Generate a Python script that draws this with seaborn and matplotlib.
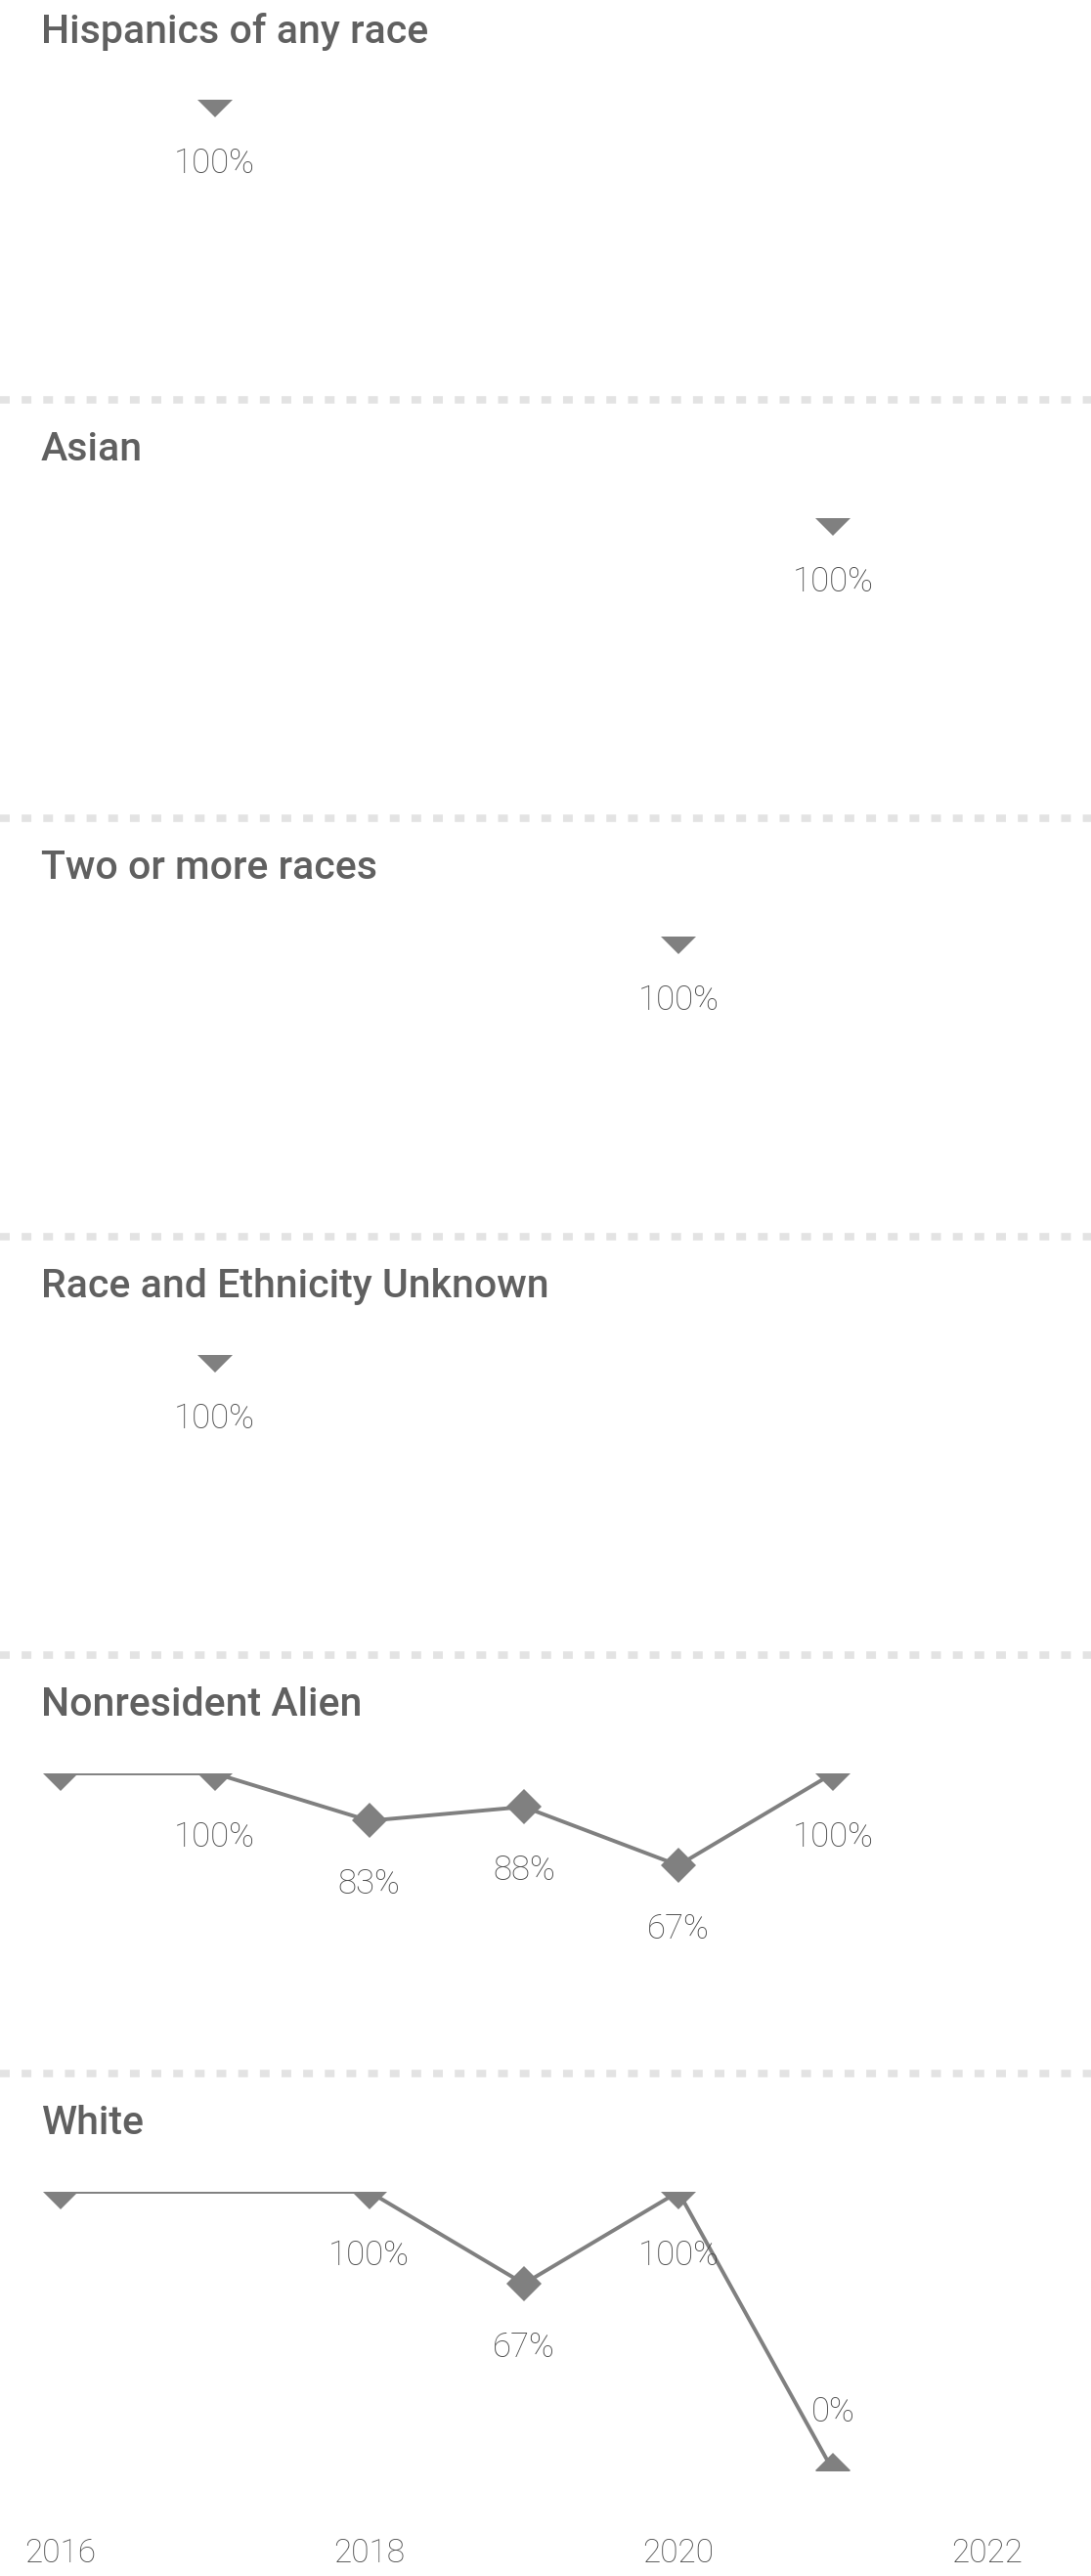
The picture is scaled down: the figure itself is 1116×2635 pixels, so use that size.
import matplotlib
matplotlib.use("Agg")
import matplotlib.pyplot as plt
import numpy as np
import pandas as pd
import seaborn as sns

# data, one list per panel
groups = ["Hispanics of any race", "Asian", "Two or more races",
          "Race and Ethnicity Unknown", "Nonresident Alien", "White"]

hisp_years = [2017]
hisp_rate = [1.00]
asian_years = [2021]
asian_rate = [1.00]
multi_years = [2020]
multi_rate = [1.00]
unknown_years = [2017]
unknown_rate = [1.00]
nra_years = [2016, 2017, 2018, 2019, 2020, 2021]
nra_rate = [1.00, 1.00, 0.83, 0.88, 0.67, 1.00]
white_years = [2016, 2018, 2019, 2020, 2021]
white_rate = [1.00, 1.00, 0.67, 1.00, 0.00]

year_ticks = [2016, 2018, 2020, 2022]

series = [(hisp_years, hisp_rate), (asian_years, asian_rate), (multi_years, multi_rate),
          (unknown_years, unknown_rate), (nra_years, nra_rate), (white_years, white_rate)]
rows = []
for g, (ys, vs) in zip(groups, series):
    for y, v in zip(ys, vs):
        rows.append({"group": g, "year": y, "rate": v})
df = pd.DataFrame(rows)

sns.set_theme(style="white")
plt.rcParams['font.family'] = ['Roboto', 'DejaVu Sans']

W, H = 1116, 2635
fig = plt.figure(figsize=(W / 100, H / 100), dpi=100)
fig.patch.set_facecolor("white")

gray = "#808080"
top0, step, ph = 102, 428, 285

for i, g in enumerate(groups):
    top = top0 + i * step
    ax = fig.add_axes([0, 1 - (top + ph) / H, 1, ph / H])
    sub = df[df.group == g]
    sns.lineplot(data=sub, x="year", y="rate", ax=ax, color=gray, linewidth=2.8,
                 marker="D", markersize=18, markeredgewidth=0, legend=False)
    ax.set_xlim(2015.61, 2022.67)
    ax.set_ylim(0, 1)
    ax.axis("off")
    for k, (yr, v) in enumerate(zip(sub.year, sub.rate)):
        if yr == 2016:
            continue
        off = -47 if v > 0.05 else 43
        ax.annotate(f"{round(v * 100):.0f}%", (yr, v), xytext=(0, off),
                    textcoords="offset points", ha="center", va="center",
                    fontsize=25, color="#4a4a4a", fontweight="light",
                    annotation_clip=False)
    # panel title
    fig.text(42 / W, 1 - (top - 70) / H, g, ha="left", va="center",
             fontsize=29.5, color="#606060", fontweight="medium")
    # dotted separator above every panel but the first
    if i > 0:
        fig.add_artist(plt.Line2D([0, 1], [1 - (top - 121) / H] * 2,
                                  transform=fig.transFigure, color="#e3e3e3",
                                  linewidth=5.5, linestyle=(0, (1.3, 1.6)),
                                  dash_capstyle="butt"))
    if i == len(groups) - 1:
        for yr in year_ticks:
            x = (yr - 2015.61) / (2022.67 - 2015.61)
            fig.text(x, 1 - 2612 / H, str(yr), ha="center", va="center",
                     fontsize=24, color="#4a4a4a", fontweight="light")

fig.savefig("out.png", dpi=100, facecolor="white")
